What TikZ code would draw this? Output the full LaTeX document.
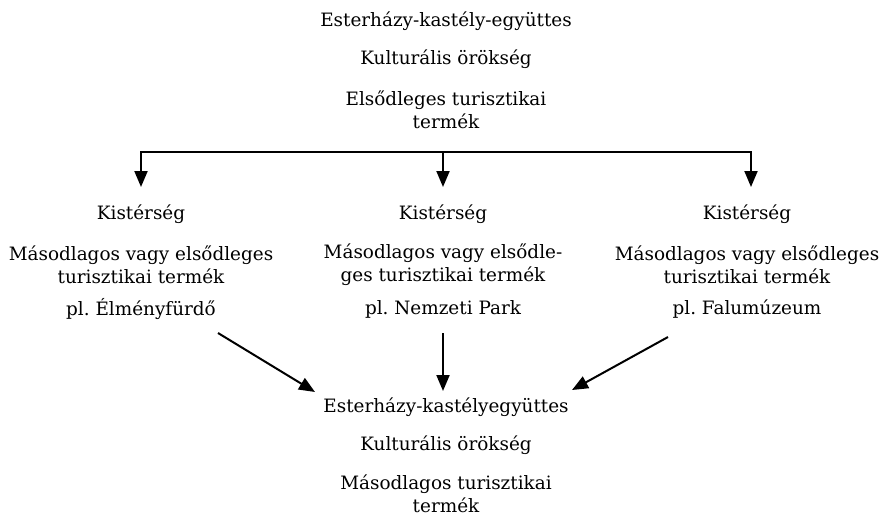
\documentclass[tikz,border=0pt]{standalone}
\usepackage{fontspec}
\setmainfont{DejaVu Serif}
\usetikzlibrary{arrows.meta}
\frenchspacing
\begin{document}
\begin{tikzpicture}[x=1pt,y=-1pt,
  lbl/.style={inner sep=0pt,align=center,font=\fontsize{18.4}{23}\selectfont},
  conn/.style={line width=2pt,-{Triangle[length=16pt,width=13pt]}},
  plain/.style={line width=2pt}]
\useasboundingbox (0,0) rectangle (882,517);
% top
\node[lbl] (t1) at (446,21) {Esterházy-kastély-együttes};
\node[lbl] (t2) at (446,59) {Kulturális örökség};
\node[lbl] (t3) at (446,110) {Elsődleges turisztikai\\termék};
% columns
\node[lbl] (k1) at (141,214) {Kistérség};
\node[lbl] (m1) at (141,265) {Másodlagos vagy elsődleges\\turisztikai termék};
\node[lbl] (p1) at (141,309) {pl. Élményfürdő};
\node[lbl] (k2) at (443,214) {Kistérség};
\node[lbl] (m2) at (443,265) {Másodlagos vagy elsődle-\\ges turisztikai termék};
\node[lbl] (p2) at (443,309) {pl. Nemzeti Park};
\node[lbl] (k3) at (747,214) {Kistérség};
\node[lbl] (m3) at (747,265) {Másodlagos vagy elsődleges\\turisztikai termék};
\node[lbl] (p3) at (747,309) {pl. Falumúzeum};
% bottom
\node[lbl] (b1) at (446,407) {Esterházy-kastélyegyüttes};
\node[lbl] (b2) at (446,445) {Kulturális örökség};
\node[lbl] (b3) at (446,494) {Másodlagos turisztikai\\termék};
% connectors
\coordinate (hl) at (141,152);
\coordinate (hm) at (443,152);
\coordinate (hr) at (751,152);
\draw[plain] ([xshift=-1pt]hl) -- ([xshift=1pt]hr);
\draw[conn] (hl) -- (141,187);
\draw[conn] (hm) -- (443,187);
\draw[conn] (hr) -- (751,187);
\coordinate (s1) at (218,333);
\coordinate (e1) at (315,392);
\coordinate (s2) at (443,333);
\coordinate (e2) at (443,391);
\coordinate (s3) at (668,337);
\coordinate (e3) at (572,390);
\draw[conn] (s1) -- (e1);
\draw[conn] (s2) -- (e2);
\draw[conn] (s3) -- (e3);
\end{tikzpicture}
\end{document}
